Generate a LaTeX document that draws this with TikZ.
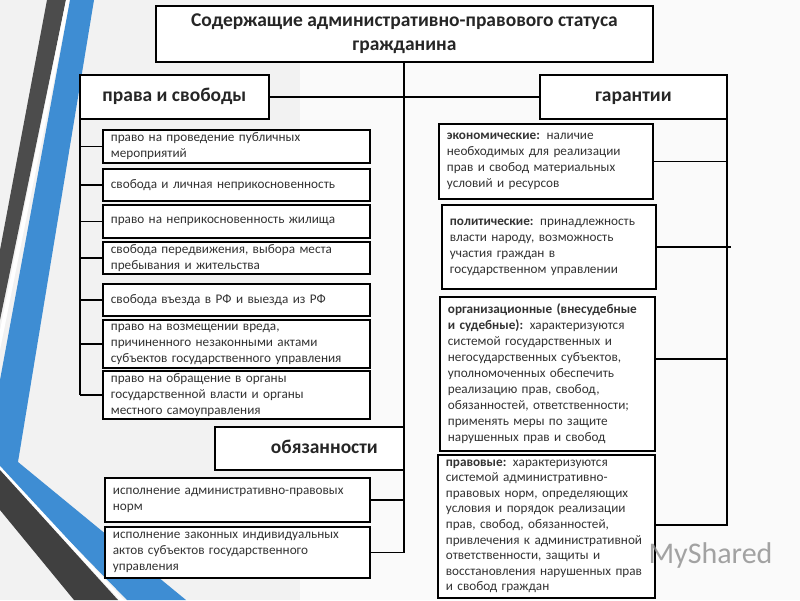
\documentclass[tikz,border=0pt]{standalone}
\usepackage{fontspec}
\setmainfont{Carlito}
\begin{document}
\begin{tikzpicture}[x=1pt,y=-1pt,
  box/.style={draw=black,line width=1.8pt,fill=white,anchor=north west,inner sep=4pt,inner xsep=8pt,text=black!80,font=\fontsize{13.2}{16}\selectfont,align=left},
  head/.style={draw=black,line width=1.8pt,fill=white,anchor=north west,font=\fontsize{19.5}{24}\bfseries\selectfont,text=black!85,align=center},
  headone/.style={head,text height=13pt,text depth=3pt},
  con/.style={line width=1.5pt}]
\useasboundingbox (0,0) rectangle (800,600);
\fill[black!5] (0,0) rectangle (800,600);
\fill[black!2] (300,0) rectangle (800,600);
% decorative stripes
\fill[black!70] (47,0) -- (66,0) -- (0,320) -- (0,250) -- cycle;
\fill[white] (66,0) -- (70,0) -- (0,350) -- (0,330) -- cycle;
\fill[cyan!60!blue!80] (70,0) -- (94,0) -- (18,462) -- (186,600) -- (127,600) -- (0,470) -- (0,380) -- cycle;
\fill[white] (0,466) -- (124,600) -- (120,600) -- (0,472) -- cycle;
\fill[black!75] (0,470) -- (118,600) -- (74,600) -- (0,510) -- cycle;

% heads
\node[head,minimum width=497,minimum height=56,inner sep=2pt] (T) at (155,5) {Содержащие административно-правового статуса\\гражданина};
\node[headone,minimum width=189,minimum height=44] (PS) at (79,74) {права и свободы};
\node[headone,minimum width=187,minimum height=44] (G) at (539,74) {гарантии};
\node[headone,minimum width=189,minimum height=43] (O) at (214,426) {\hspace*{30pt}обязанности};

\coordinate (trunk) at (404,61);
\coordinate (trunkB) at (404,553);
\coordinate (lb) at (80,118);
\coordinate (rb) at (727,118);

% left boxes
\node[box,minimum width=267,minimum height=33,text width=251,inner ysep=1pt] (L1) at (102,129) {право на проведение публичных\\мероприятий};
\node[box,minimum width=267,minimum height=32,text width=251] (L2) at (102,168) {свобода и личная неприкосновенность};
\node[box,minimum width=267,minimum height=33,text width=251] (L3) at (102,204) {право на неприкосновенность жилища};
\node[box,minimum width=267,minimum height=32,text width=251,inner ysep=0pt] (L4) at (102,241) {свобода передвижения, выбора места\\пребывания и жительства};
\node[box,minimum width=267,minimum height=32,text width=251] (L5) at (102,283) {свобода въезда в РФ и выезда из РФ};
\node[box,minimum width=267,minimum height=48,text width=251,inner ysep=0pt] (L6) at (102,319) {право на возмещении вреда,\\причиненного незаконными актами\\субъектов государственного управления};
\node[box,minimum width=267,minimum height=48,text width=251,inner ysep=0pt] (L7) at (102,370) {право на обращение в органы\\государственной власти и органы\\местного самоуправления};

\node[box,minimum width=265,minimum height=44,text width=249] (D1) at (104,477) {исполнение административно-правовых\\норм};
\node[box,minimum width=265,minimum height=51,text width=249,inner ysep=0pt] (D2) at (104,526) {исполнение законных индивидуальных\\актов субъектов государственного\\управления};

% right boxes
\node[box,minimum width=214,minimum height=75,text width=198] (R1) at (438,123) {\textbf{экономические:} наличие\\необходимых для реализации\\прав и свобод материальных\\условий и ресурсов};
\node[box,minimum width=214,minimum height=84,text width=198] (R2) at (441,204) {\textbf{политические:} принадлежность\\власти народу, возможность\\участия граждан в\\государственном управлении};
\node[box,minimum width=215,minimum height=154,text width=199,inner ysep=2pt] (R3) at (439,296) {\textbf{организационные (внесудебные}\\\textbf{и судебные):} характеризуются\\системой государственных и\\негосударственных субъектов,\\уполномоченных обеспечить\\реализацию прав, свобод,\\обязанностей, ответственности;\\применять меры по защите\\нарушенных прав и свобод};
\node[box,minimum width=217,minimum height=143,text width=201,inner ysep=1pt,font=\fontsize{13.2}{15.6}\selectfont] (R4) at (437,454) {\textbf{правовые:} характеризуются\\системой административно-\\правовых норм, определяющих\\условия и порядок реализации\\прав, свобод, обязанностей,\\привлечения к административной\\ответственности, защиты и\\восстановления нарушенных прав\\и свобод граждан};

% connectors
\draw[con] (T.south -| trunk) -- (trunkB);
\draw[con] (PS.east) -- (G.west);
\draw[con] (D1.east) -- (D1.east -| trunk);
\draw[con] (D2.east) -- (D2.east -| trunk);
\draw[con] (PS.south -| lb) -- (L7.west -| lb);
\foreach \n in {L1,L2,L3,L4,L5,L6,L7} \draw[con] (\n.west) -- (\n.west -| lb);
\coordinate (rbe) at (727,525);
\draw[con] (G.south -| rb) -- (rbe) -- (rbe -| R4.east);
\draw[con] (R1.east) -- (R1.east -| rb);
\draw[con] (R2.east) -- ([xshift=4pt]R2.east -| rb);
\draw[con] (R3.east |- 0,359) -- (rb |- 0,359);

% watermark
\node[text=black!45,font=\fontsize{30}{30}\selectfont,anchor=west,opacity=0.8] (wm) at (645,555) {MyShared};
\end{tikzpicture}
\end{document}
